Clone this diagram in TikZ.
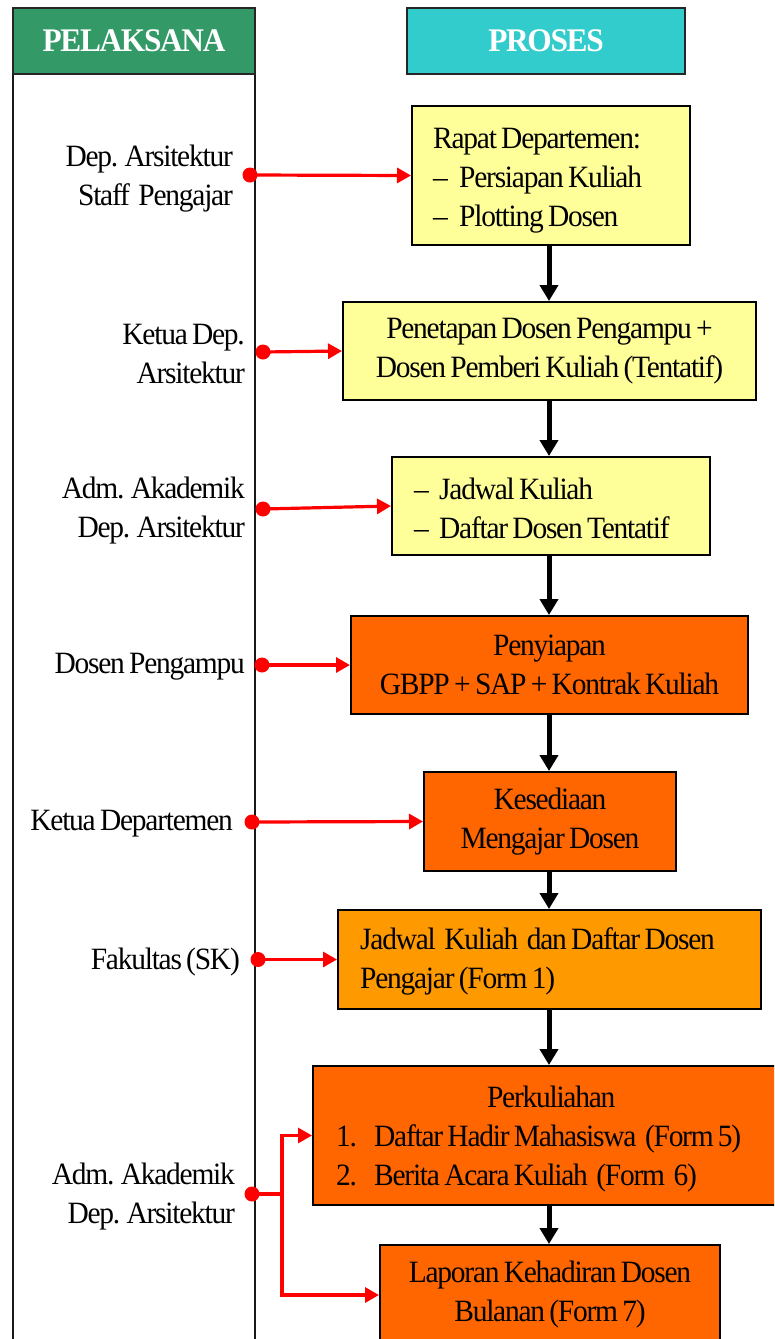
\documentclass[tikz,border=0pt]{standalone}
\usepackage{fontspec}
\setmainfont{Liberation Serif}[FakeStretch=0.95, LetterSpace=-4, WordSpace=0.7]
\usetikzlibrary{arrows.meta}
\definecolor{cyellow}{HTML}{FFFF99}
\definecolor{corange}{HTML}{FF6600}
\definecolor{corange2}{HTML}{FF9900}
\definecolor{cgreen}{HTML}{339966}
\definecolor{cteal}{HTML}{33CCCC}
\definecolor{cred}{HTML}{FF0000}
\begin{document}
\begin{tikzpicture}[x=1pt,y=-1pt,
  every node/.style={font=\fontsize{31}{39}\selectfont},
  box/.style={draw=black, line width=2pt, inner sep=0pt},
  txt/.style={anchor=west, align=left, inner sep=0pt},
  header/.style={draw=black!85, line width=2pt, inner sep=0pt, text=white,
    font=\bfseries\fontsize{33}{40}\selectfont, minimum height=66pt},
  lbl/.style={anchor=east, align=right, inner sep=0pt},
  dot/.style={circle, fill=cred, inner sep=0pt, minimum size=15pt},
  redarrow/.style={draw=cred, line width=3.2pt, -{Triangle[length=14pt,width=15pt]}},
  redline/.style={draw=cred, line width=3.2pt},
  flow/.style={draw=black, line width=5pt, -{Triangle[length=16pt,width=18pt]}},
  lane/.style={draw=black!90, line width=1.5pt}]
\useasboundingbox (0,0) rectangle (774,1339);
\clip (0,0) rectangle (774,1339);
\fill[white] (0,0) rectangle (774,1339);

% lane
\draw[lane] (13,74) -- (13,1350);
\draw[lane] (255,74) -- (255,1350);
\node[header, fill=cgreen, minimum width=242pt] (h1) at (134,41) {PELAKSANA};
\node[header, fill=cteal, minimum width=278pt] (h2) at (546,41) {PROSES};

% process boxes
\node[box, fill=cyellow, minimum width=278pt, minimum height=139pt] (b1) at (551,175.5) {};
\node[txt] (t1) at (433,181)
  {Rapat Departemen:\\\makebox[26pt][l]{–}Persiapan Kuliah\\\makebox[26pt][l]{–}Plotting Dosen};
\node[box, fill=cyellow, minimum width=413pt, minimum height=98pt, align=center] (b2) at (549.5,351)
  {Penetapan Dosen Pengampu +\\Dosen Pemberi Kuliah (Tentatif)};
\node[box, fill=cyellow, minimum width=318pt, minimum height=98pt] (b3) at (551,506) {};
\node[txt] (t3) at (414,508)
  {\makebox[25pt][l]{–}Jadwal Kuliah\\\makebox[25pt][l]{–}Daftar Dosen Tentatif};
\node[box, fill=corange, minimum width=397pt, minimum height=98pt, align=center] (b4) at (549.5,665)
  {Penyiapan\\GBPP + SAP + Kontrak Kuliah};
\node[box, fill=corange, minimum width=252pt, minimum height=99pt, align=center] (b5) at (550,821.5)
  {Kesediaan\\Mengajar Dosen};
\node[box, fill=corange2, minimum width=423pt, minimum height=99pt] (b6) at (549.5,959.5) {};
\node[txt] (t6) at (360,961)
  {Jadwal\ \ Kuliah\ \ dan Daftar Dosen\\Pengajar (Form 1)};
\node[box, fill=corange, minimum width=472pt, minimum height=139pt] (b7) at (549,1135.5) {};
\node[txt] (t7) at (336,1139)
  {\makebox[430pt]{Perkuliahan}\\\makebox[38pt][l]{1.}Daftar Hadir Mahasiswa\ \ (Form 5)\\\makebox[38pt][l]{2.}Berita Acara Kuliah\ \ (Form\ \ 6)};
\node[box, fill=corange, minimum width=340pt, minimum height=100pt, align=center] (b8) at (550,1295)
  {Laporan Kehadiran Dosen\\Bulanan (Form 7)};

% flow arrows
\coordinate (ax) at (549,0);
\draw[flow] (b1.south -| ax) -- (b2.north -| ax);
\draw[flow] (b2.south -| ax) -- (b3.north -| ax);
\draw[flow] (b3.south -| ax) -- (b4.north -| ax);
\draw[flow] (b4.south -| ax) -- (b5.north -| ax);
\draw[flow] (b5.south -| ax) -- (b6.north -| ax);
\draw[flow] (b6.south -| ax) -- (b7.north -| ax);
\draw[flow] (b7.south -| ax) -- (b8.north -| ax);

% actor labels
\node[lbl] (l1) at (233,179) {Dep. Arsitektur\\Staff\ \ Pengajar};
\node[lbl] (l2) at (245,354) {Ketua Dep.\\Arsitektur};
\node[lbl] (l3) at (245,511) {Adm. Akademik\\Dep. Arsitektur};
\node[lbl] (l4) at (245,667) {Dosen Pengampu};
\node[lbl] (l5) at (233,824) {Ketua Departemen};
\node[lbl] (l6) at (240,962) {Fakultas (SK)};
\node[lbl] (l7) at (235,1197) {Adm. Akademik\\Dep. Arsitektur};

% red connectors
\draw[redarrow] (250,175) -- (b1.west);
\node[dot] (d1) at (250,175) {};
\draw[redarrow] (263,352) -- (b2.west);
\node[dot] (d2) at (263,352) {};
\draw[redarrow] (263,509) -- (b3.west);
\node[dot] (d3) at (263,509) {};
\draw[redarrow] (262,665) -- (b4.west);
\node[dot] (d4) at (262,665) {};
\draw[redarrow] (252,822) -- (b5.west);
\node[dot] (d5) at (252,822) {};
\draw[redarrow] (258,959.5) -- (b6.west);
\node[dot] (d6) at (258,959.5) {};
\coordinate (j7) at (282,1194);
\draw[redline] (252,1194) -- (j7);
\draw[redarrow] (j7) |- (b7.west);
\draw[redarrow] (j7) |- (b8.west);
\node[dot] (d7) at (252,1194) {};
\end{tikzpicture}
\end{document}
